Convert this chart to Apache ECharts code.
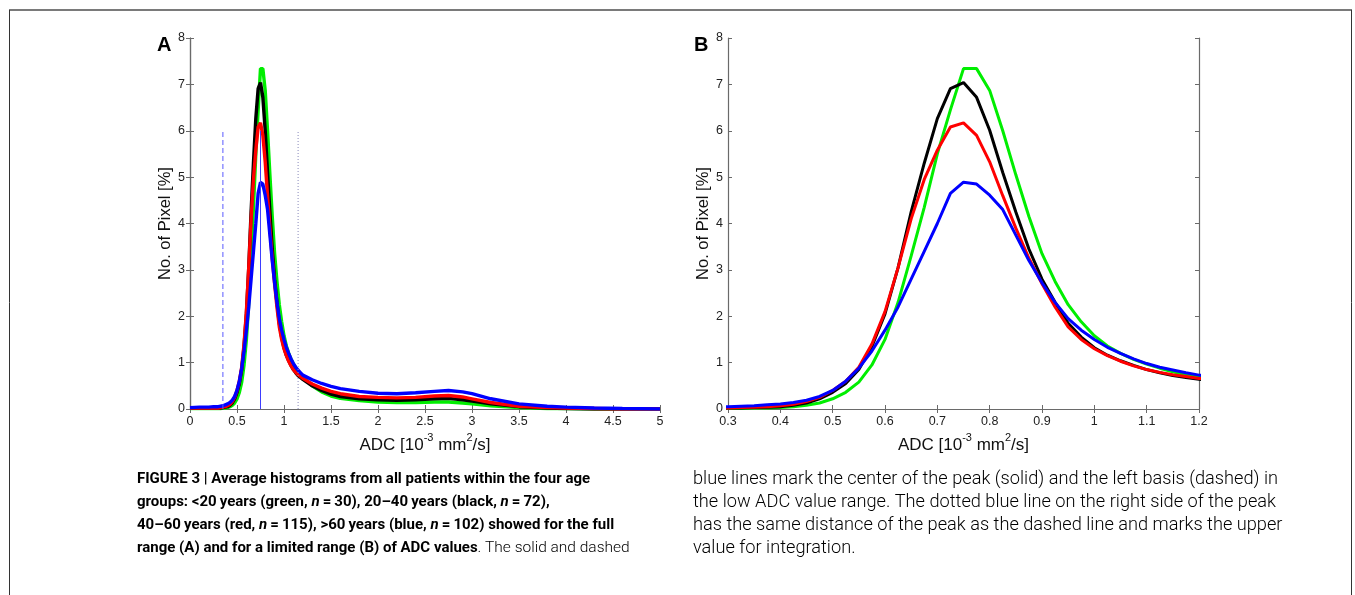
<!DOCTYPE html>
<html>
<head>
<meta charset="utf-8">
<script src="https://cdn.jsdelivr.net/npm/echarts@6/dist/echarts.min.js"></script>
<style>
  html, body { margin: 0; padding: 0; background: #fff; }
  #chart { width: 1355px; height: 595px; }
</style>
</head>
<body>
<div id="chart"></div>
<script>
// ADC bin centres [10^-3 mm^2/s]
const adc = [0, 0.1, 0.2, 0.25, 0.3, 0.325, 0.35, 0.375, 0.4, 0.425, 0.45, 0.475,
  0.5, 0.525, 0.55, 0.575, 0.6, 0.625, 0.65, 0.675, 0.7, 0.725, 0.75, 0.775,
  0.8, 0.825, 0.85, 0.875, 0.9, 0.925, 0.95, 0.975, 1.0, 1.025, 1.05, 1.075,
  1.1, 1.125, 1.15, 1.175, 1.2, 1.3, 1.4, 1.5, 1.6, 1.8, 2.0, 2.2, 2.4, 2.6,
  2.75, 2.9, 3.0, 3.2, 3.5, 3.8, 4.0, 4.3, 4.6, 5.0];

// <20 years
const green = [0.01, 0.01, 0.01, 0.01, 0.01, 0.01, 0.02, 0.02, 0.03, 0.05, 0.08, 0.13,
  0.22, 0.36, 0.58, 0.95, 1.5, 2.3, 3.3, 4.35, 5.5, 6.45, 7.34, 7.34,
  6.87, 6.0, 5.05, 4.15, 3.35, 2.75, 2.25, 1.88, 1.58, 1.36, 1.2, 1.07,
  0.97, 0.88, 0.8, 0.74, 0.69, 0.5, 0.37, 0.28, 0.23, 0.18, 0.15, 0.14, 0.14, 0.15,
  0.15, 0.13, 0.11, 0.07, 0.03, 0.01, 0.01, 0, 0, 0];

// 20-40 years
const black = [0.02, 0.02, 0.02, 0.02, 0.02, 0.02, 0.03, 0.04, 0.05, 0.08, 0.13, 0.22,
  0.36, 0.55, 0.85, 1.35, 2.05, 3.05, 4.25, 5.3, 6.26, 6.91, 7.04, 6.72,
  6.01, 5.1, 4.25, 3.45, 2.8, 2.3, 1.85, 1.55, 1.32, 1.16, 1.04, 0.94,
  0.85, 0.78, 0.72, 0.68, 0.64, 0.5, 0.4, 0.32, 0.27, 0.22, 0.2, 0.19, 0.2, 0.22,
  0.23, 0.2, 0.17, 0.11, 0.05, 0.02, 0.01, 0, 0, 0];

// 40-60 years
const red = [0.02, 0.02, 0.02, 0.02, 0.02, 0.03, 0.04, 0.05, 0.07, 0.1, 0.16, 0.25,
  0.4, 0.6, 0.9, 1.4, 2.1, 3.05, 4.1, 4.95, 5.58, 6.08, 6.17, 5.9,
  5.33, 4.6, 3.9, 3.25, 2.7, 2.2, 1.77, 1.5, 1.3, 1.15, 1.03, 0.93,
  0.85, 0.79, 0.74, 0.7, 0.66, 0.54, 0.45, 0.38, 0.33, 0.27, 0.25, 0.24, 0.25, 0.28,
  0.29, 0.26, 0.22, 0.14, 0.06, 0.03, 0.02, 0.01, 0, 0];

// >60 years
const blue = [0.03, 0.04, 0.04, 0.05, 0.05, 0.06, 0.07, 0.09, 0.11, 0.14, 0.19, 0.27,
  0.4, 0.6, 0.88, 1.25, 1.7, 2.2, 2.8, 3.4, 4.0, 4.65, 4.89, 4.85,
  4.61, 4.3, 3.75, 3.2, 2.72, 2.3, 1.95, 1.7, 1.5, 1.33, 1.2, 1.08,
  0.98, 0.9, 0.84, 0.78, 0.73, 0.63, 0.55, 0.49, 0.44, 0.38, 0.34, 0.33, 0.35, 0.38,
  0.4, 0.37, 0.33, 0.22, 0.11, 0.06, 0.04, 0.02, 0.01, 0];

// peak markers in panel A: left basis (dashed), centre (solid), upper limit (dotted)
const markerX = [0.35, 0.75, 1.15];
const markerTop = 6;

const groups = [
  { name: '<20 years', values: green, color: '#00ee00' },
  { name: '20-40 years', values: black, color: '#000000' },
  { name: '40-60 years', values: red, color: '#ff0000' },
  { name: '>60 years', values: blue, color: '#0000ff' }
];

const axisGray = '#6a6a6a';
const font = 'Liberation Sans, Arial, sans-serif';

function pairs(ys) {
  return adc.map((x, i) => [x, ys[i]]);
}

function fmt(v) {
  return String(+v.toFixed(2));
}

function xAxes(grid, min, max, step) {
  const base = {
    gridIndex: grid, type: 'value', min: min, max: max, interval: step,
    axisLine: { lineStyle: { color: axisGray, width: 1.2 } },
    axisTick: { inside: true, length: 4, lineStyle: { color: axisGray } },
    splitLine: { show: false }
  };
  return [
    Object.assign({}, base, {
      position: 'bottom',
      axisLabel: { color: '#222', fontFamily: font, fontSize: 12.5, margin: 6, formatter: fmt },
      name: '{n|ADC [10}{s|-3}{n| mm}{s|2}{n|/s]}',
      nameLocation: 'middle',
      nameGap: 23,
      nameTextStyle: {
        rich: {
          n: { fontFamily: font, fontSize: 17, color: '#111', lineHeight: 24 },
          s: { fontFamily: font, fontSize: 11, color: '#111', verticalAlign: 'top' }
        }
      }
    }),
    Object.assign({}, base, { position: 'top', axisLabel: { show: false } })
  ];
}

function yAxes(grid) {
  const base = {
    gridIndex: grid, type: 'value', min: 0, max: 8, interval: 1,
    axisLine: { lineStyle: { color: axisGray, width: 1.2 } },
    axisTick: { inside: true, length: 4, lineStyle: { color: axisGray } },
    splitLine: { show: false }
  };
  return [
    Object.assign({}, base, {
      position: 'left',
      axisLabel: { color: '#222', fontFamily: font, fontSize: 12.5, margin: 5 },
      name: 'No. of Pixel [%]',
      nameLocation: 'middle',
      nameGap: 14,
      nameTextStyle: { fontFamily: font, fontSize: 16.5, color: '#111' }
    }),
    Object.assign({}, base, { position: 'right', axisLabel: { show: false } })
  ];
}

const series = [];
// panel A uses axes 0, panel B uses axes 2
[0, 2].forEach(ax => {
  groups.forEach(g => {
    series.push({
      type: 'line', name: g.name, xAxisIndex: ax, yAxisIndex: ax,
      data: pairs(g.values), showSymbol: false, clip: true,
      lineStyle: { color: g.color, width: ax === 0 ? 3.4 : 3 },
      itemStyle: { color: g.color }, animation: false, z: 3
    });
  });
});
const markerStyles = [
  { type: [5, 3], color: '#5a5aff' },
  { type: 'solid', color: '#3d3dff' },
  { type: [1, 2], color: '#8888bb' }
];
markerX.forEach((x, i) => {
  series.push({
    type: 'line', xAxisIndex: 0, yAxisIndex: 0,
    data: [[x, 0], [x, markerTop]], showSymbol: false, animation: false, z: 4,
    lineStyle: { width: 1, type: markerStyles[i].type, color: markerStyles[i].color }
  });
});

const eq = '\u2009=\u2009';
const captionLeft = [
  '{b|FIGURE 3 | Average histograms from all patients within the four age}',
  '{b|groups: <20\u2009years (green, }{bi|n}{b|' + eq + '30), 20–40\u2009years (black, }{bi|n}{b|' + eq + '72),}',
  '{b|40–60\u2009years (red, }{bi|n}{b|' + eq + '115), >60\u2009years (blue, }{bi|n}{b|' + eq + '102) showed for the full}',
  '{b|range (A) and for a limited range (B) of ADC values}{r|. The solid and dashed}'
];
const captionRight = [
  'blue lines mark the center of the peak (solid) and the left basis (dashed) in',
  'the low ADC value range. The dotted blue line on the right side of the peak',
  'has the same distance of the peak as the dashed line and marks the upper',
  'value for integration.'
];
const capFont = 'Roboto, Liberation Sans, sans-serif';
const capRich = {
  b: { fontFamily: capFont, fontWeight: 'bold', fontSize: 15, color: '#1a1a1a', lineHeight: 23 },
  bi: { fontFamily: capFont, fontWeight: 'bold', fontStyle: 'italic', fontSize: 15, color: '#1a1a1a', lineHeight: 23 },
  r: { fontFamily: capFont, fontWeight: 300, fontSize: 15.5, color: '#1a1a1a', lineHeight: 23 },
  rr: { fontFamily: capFont, fontWeight: 300, fontSize: 18.2, color: '#1a1a1a', lineHeight: 23 }
};

const chart = echarts.init(document.getElementById('chart'), null, { renderer: 'canvas' });
chart.setOption({
  animation: false,
  backgroundColor: '#fff',
  grid: [
    { left: 190, top: 38, width: 470, height: 371 },
    { left: 728, top: 38, width: 471, height: 371 }
  ],
  xAxis: xAxes(0, 0, 5, 0.5).concat(xAxes(1, 0.3, 1.2, 0.1)),
  yAxis: yAxes(0).concat(yAxes(1)),
  series: series,
  graphic: [
    { type: 'line', shape: { x1: 9, y1: 10, x2: 1352, y2: 10 }, style: { stroke: '#7a7a7a', lineWidth: 2 } },
    { type: 'line', shape: { x1: 9.5, y1: 10, x2: 9.5, y2: 595 }, style: { stroke: '#333', lineWidth: 1 } },
    { type: 'line', shape: { x1: 1351.5, y1: 10, x2: 1351.5, y2: 595 }, style: { stroke: '#333', lineWidth: 1 } },
    { type: 'text', x: 157, y: 45, style: { text: 'A', font: 'bold 20px ' + font, fill: '#000', verticalAlign: 'middle' } },
    { type: 'text', x: 694, y: 45, style: { text: 'B', font: 'bold 20px ' + font, fill: '#000', verticalAlign: 'middle' } },
    { type: 'text', x: 137, y: 468, style: { text: captionLeft.join('\n'), rich: capRich } },
    { type: 'text', x: 693, y: 468, style: { text: captionRight.map(t => '{rr|' + t + '}').join('\n'), rich: capRich } }
  ]
});
</script>
</body>
</html>
